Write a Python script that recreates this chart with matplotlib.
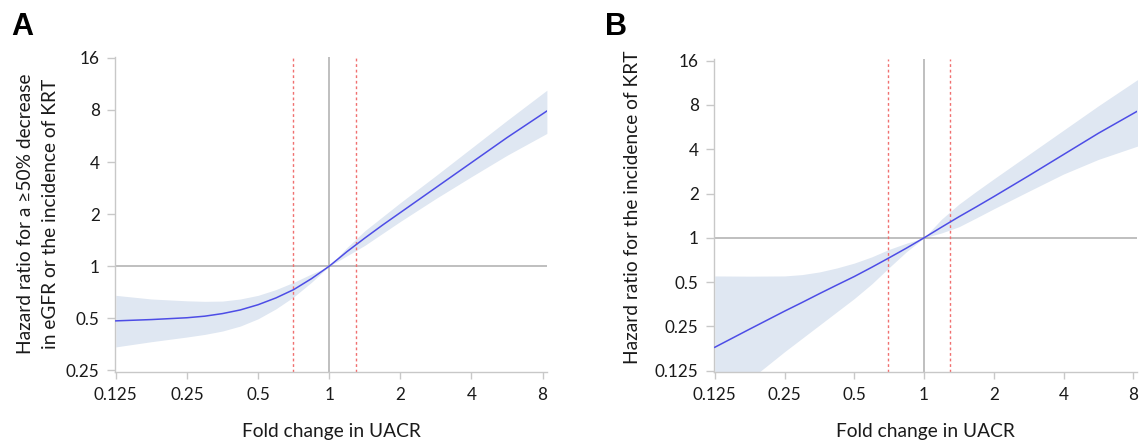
import numpy as np
import matplotlib
matplotlib.use("Agg")
import matplotlib.pyplot as plt
from matplotlib.ticker import FixedLocator, FixedFormatter, NullLocator

plt.rcParams['font.family'] = ['Lato', 'DejaVu Sans']

# readings taken on the log2 grid of the chart
# log2 of fold change in UACR (x), shared by both panels
log2_fc = [-3, -2.5, -2, -1.75, -1.5, -1.25, -1, -0.75, -0.5, -0.25, 0,
           0.25, 0.5, 0.75, 1, 1.5, 2, 2.5, 3.06]

# panel A: >=50% eGFR decrease or KRT (log2 hazard ratio)
log2_hr_a = [-1.05, -1.025, -0.99, -0.96, -0.91, -0.84, -0.74, -0.61, -0.45, -0.24, 0,
             0.28, 0.54, 0.79, 1.03, 1.51, 1.99, 2.47, 2.98]
log2_hr_a_upper = [-0.56, -0.63, -0.665, -0.675, -0.67, -0.63, -0.56, -0.45, -0.31, -0.15, 0,
                   0.36, 0.68, 0.95, 1.22, 1.74, 2.27, 2.80, 3.38]
log2_hr_a_lower = [-1.55, -1.45, -1.36, -1.31, -1.245, -1.15, -1.01, -0.82, -0.59, -0.31, 0,
                   0.20, 0.40, 0.63, 0.86, 1.30, 1.72, 2.13, 2.55]

# panel B: KRT only (log2 hazard ratio)
log2_hr_b = [-2.47, -2.06, -1.655, -1.46, -1.26, -1.065, -0.873, -0.665, -0.45, -0.23, 0,
             0.24, 0.475, 0.70, 0.93, 1.40, 1.88, 2.36, 2.86]
log2_hr_b_upper = [-0.86, -0.865, -0.86, -0.83, -0.77, -0.68, -0.57, -0.43, -0.26, -0.12, 0,
                   0.42, 0.76, 1.05, 1.33, 1.88, 2.43, 2.98, 3.57]
log2_hr_b_lower = [-3.85, -3.2, -2.57, -2.27, -1.97, -1.67, -1.37, -1.04, -0.67, -0.31, 0,
                   0.11, 0.25, 0.45, 0.655, 1.05, 1.44, 1.77, 2.07]

x_ticks = [0.125, 0.25, 0.5, 1, 2, 4, 8]
x_ticklabels = ['0.125', '0.25', '0.5', '1', '2', '4', '8']
y_ticks_a = [0.25, 0.5, 1, 2, 4, 8, 16]
y_ticklabels_a = ['0.25', '0.5', '1', '2', '4', '8', '16']
y_ticks_b = [0.125, 0.25, 0.5, 1, 2, 4, 8, 16]
y_ticklabels_b = ['0.125', '0.25', '0.5', '1', '2', '4', '8', '16']

cut_low, cut_high = 0.7, 1.3

W, H = 1139, 446
fig = plt.figure(figsize=(W / 100, H / 100), dpi=100)
fold_change = np.exp2(log2_fc)


def px_axes(left, top, right, bottom):
    return fig.add_axes([left / W, 1 - bottom / H, (right - left) / W, (bottom - top) / H])


def draw_panel(ax, mid, lower, upper, yticks, ylabels, ylim, xlim):
    ax.set_xscale('log', base=2)
    ax.set_yscale('log', base=2)
    ax.fill_between(fold_change, np.exp2(lower), np.exp2(upper), color='#dfe7f2', lw=0, zorder=1)
    ax.axhline(1, color='#b4b4b4', lw=1.2, zorder=2)
    ax.axvline(1, color='#b4b4b4', lw=1.2, zorder=2)
    for c in (cut_low, cut_high):
        ax.axvline(c, color='#f07070', lw=1.0, ls=(0, (2, 2)), zorder=2)
    ax.plot(fold_change, np.exp2(mid), color='#4d4de6', lw=1.1, zorder=3)
    ax.set_xlim(*xlim)
    ax.set_ylim(*ylim)
    ax.xaxis.set_major_locator(FixedLocator(x_ticks))
    ax.xaxis.set_major_formatter(FixedFormatter(x_ticklabels))
    ax.yaxis.set_major_locator(FixedLocator(yticks))
    ax.yaxis.set_major_formatter(FixedFormatter(ylabels))
    ax.xaxis.set_minor_locator(NullLocator())
    ax.yaxis.set_minor_locator(NullLocator())
    for s in ('top', 'right'):
        ax.spines[s].set_visible(False)
    for s in ('left', 'bottom'):
        ax.spines[s].set_color('#c8c8c8')
        ax.spines[s].set_linewidth(1.0)
    ax.tick_params(axis='x', length=5, width=1, color='#c8c8c8', pad=6,
                   labelsize=12.3, labelcolor='#1a1a1a')
    ax.tick_params(axis='y', length=6, width=1, color='#c8c8c8', pad=5,
                   labelsize=12.3, labelcolor='#1a1a1a')
    ax.set_xlabel('Fold change in UACR', fontsize=13.8, color='#1a1a1a', labelpad=14)


ax_a = px_axes(115, 57, 547, 372)
draw_panel(ax_a, log2_hr_a, log2_hr_a_lower, log2_hr_a_upper, y_ticks_a, y_ticklabels_a,
           (0.2445, 16.2), (0.124, 8.35))

ax_b = px_axes(714, 59, 1137, 372)
draw_panel(ax_b, log2_hr_b, log2_hr_b_lower, log2_hr_b_upper, y_ticks_b, y_ticklabels_b,
           (0.1226, 16.4), (0.124, 8.3))

# y labels
fig.text(26 / W, 1 - 214 / H, 'Hazard ratio for a \u226550% decrease', rotation=90,
         ha='center', va='center', fontsize=13.8, color='#1a1a1a')
fig.text(51 / W, 1 - 214 / H, 'in eGFR or the incidence of KRT', rotation=90,
         ha='center', va='center', fontsize=13.8, color='#1a1a1a')
fig.text(632 / W, 1 - 207 / H, 'Hazard ratio for the incidence of KRT', rotation=90,
         ha='center', va='center', fontsize=13.8, color='#1a1a1a')

# panel letters
fig.text(11 / W, 1 - 35 / H, 'A', fontsize=22, fontweight='bold',
         family='Liberation Sans', ha='left', va='baseline')
fig.text(605 / W, 1 - 35 / H, 'B', fontsize=22, fontweight='bold',
         family='Liberation Sans', ha='left', va='baseline')

fig.savefig('out.png', dpi=100)
